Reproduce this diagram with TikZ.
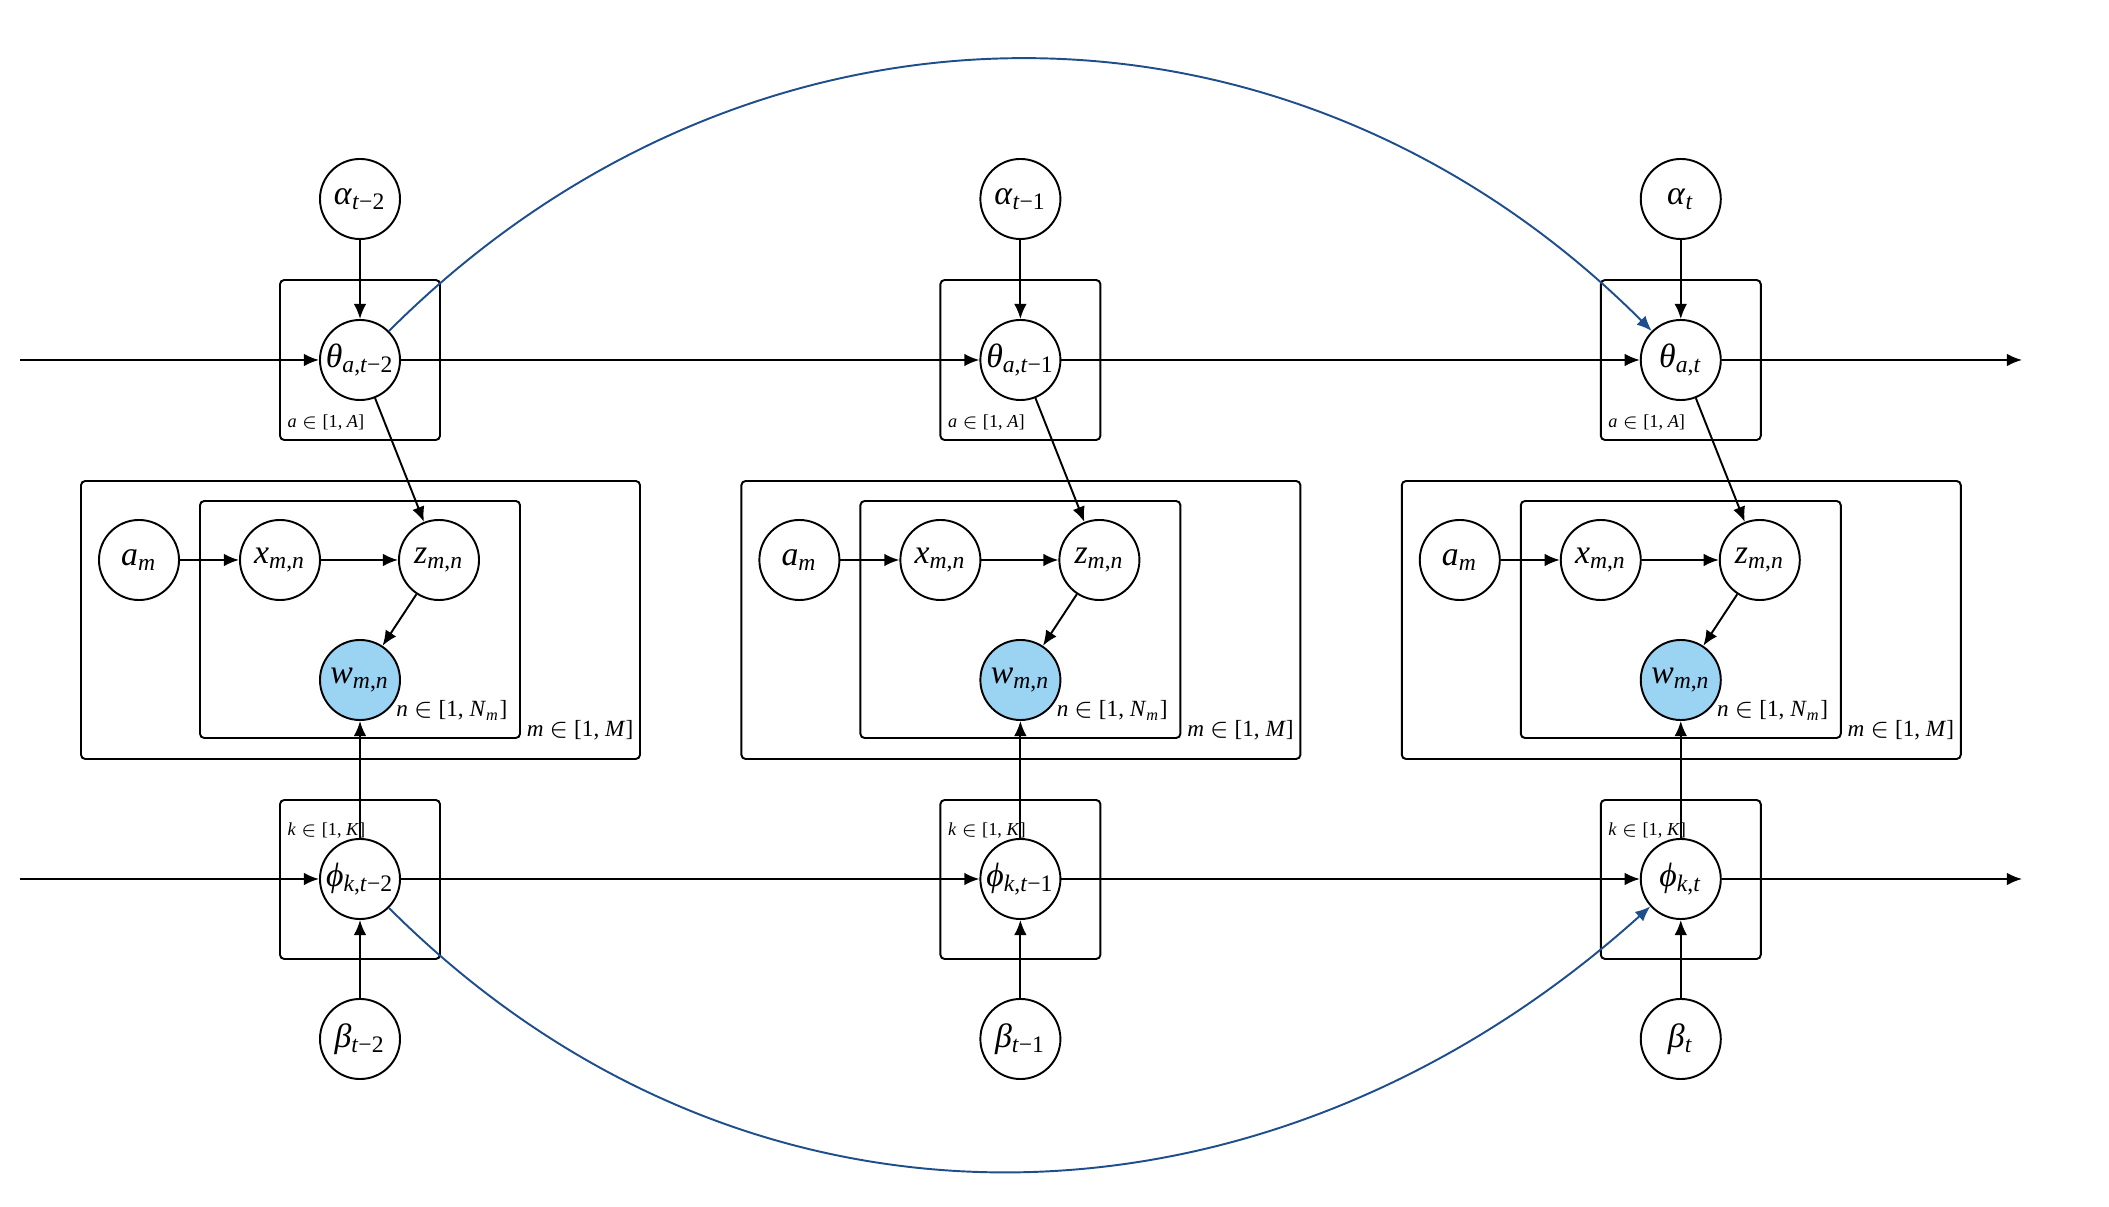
\documentclass[tikz,border=0pt]{standalone}
\usepackage{fontspec}
\setmainfont{Liberation Serif}
\usetikzlibrary{arrows.meta}
\definecolor{arcblue}{RGB}{31,78,140}
\definecolor{obsblue}{RGB}{155,211,242}
\newcommand{\lbl}[2]{\textit{#1}\textsubscript{#2}}
\begin{document}
\begin{tikzpicture}[x=0.01cm, y=-0.01cm,
    every node/.style={font=\fontsize{9.6}{11}\selectfont},
    var/.style={draw, circle, line width=0.55pt, minimum size=0.8cm, inner sep=0pt},
    obs/.style={var, fill=obsblue},
    plate/.style={draw, line width=0.55pt, rounded corners=1.2pt},
    edge/.style={line width=0.55pt, -{Latex[length=4.3pt,width=3.6pt]}},
    link/.style={edge, arcblue},
    platelabel/.style={font=\fontsize{6.6}{8}\selectfont, inner sep=0pt},
    smalllabel/.style={font=\fontsize{5.2}{6}\selectfont, inner sep=0pt}]
    \useasboundingbox (0,0) rectangle (2109,1207);
    \foreach \i/\s in {0/{\textit{t}−2},1/{\textit{t}−1},2/\textit{t}} {
      \begin{scope}[xshift=\i*6.6cm]
        \draw[plate] (280,280) rectangle (440,440);
        \draw[plate] (81,481) rectangle (640,759);
        \draw[plate] (200,501) rectangle (520,738);
        \draw[plate] (280,800) rectangle (440,959);
        \node[var] (alpha\i) at (360,199) {\lbl{α}{\s}};
        \node[var] (theta\i) at (360,360) {\lbl{θ}{\textit{a},\s}};
        \node[var] (am\i) at (139,560) {\lbl{a}{\textit{m}}};
        \node[var] (x\i) at (280,560) {\lbl{x}{\textit{m},\textit{n}}};
        \node[var] (z\i) at (439,560) {\lbl{z}{\textit{m},\textit{n}}};
        \node[obs] (w\i) at (360,680) {\lbl{w}{\textit{m},\textit{n}}};
        \node[var] (phi\i) at (360,879) {\lbl{ϕ}{\textit{k},\s}};
        \node[var] (beta\i) at (360,1039) {\lbl{β}{\s}};
        \node[smalllabel, anchor=base west] (alab\i) at (287,428) {\textit{a} $\in$ [1, \textit{A}]};
        \node[smalllabel, anchor=base west] (klab\i) at (287,836) {\textit{k} $\in$ [1, \textit{K}]};
        \node[platelabel, anchor=base east] (nlab\i) at (508,717) {\textit{n} $\in$ [1, \lbl{N}{\textit{m}}]};
        \node[platelabel, anchor=base east] (mlab\i) at (634,737) {\textit{m} $\in$ [1, \textit{M}]};
        \draw[edge] (alpha\i) -- (theta\i);
        \draw[edge] (theta\i) -- (z\i);
        \draw[edge] (am\i) -- (x\i);
        \draw[edge] (x\i) -- (z\i);
        \draw[edge] (z\i) -- (w\i);
        \draw[edge] (phi\i) -- (w\i);
        \draw[edge] (beta\i) -- (phi\i);
      \end{scope}
    }
    \coordinate (thetain) at (20,360);
    \coordinate (thetaout) at (2022,360);
    \coordinate (phiin) at (20,879);
    \coordinate (phiout) at (2022,879);
    \draw[edge] (thetain) -- (theta0);
    \draw[edge] (theta0) -- (theta1);
    \draw[edge] (theta1) -- (theta2);
    \draw[edge] (theta2) -- (thetaout);
    \draw[edge] (phiin) -- (phi0);
    \draw[edge] (phi0) -- (phi1);
    \draw[edge] (phi1) -- (phi2);
    \draw[edge] (phi2) -- (phiout);
    \draw[link] (theta0) to[out=45, in=135, looseness=1.04] (theta2);
    \draw[link] (phi0) to[out=-45, in=-138, looseness=1.04] (phi2);
\end{tikzpicture}
\end{document}
